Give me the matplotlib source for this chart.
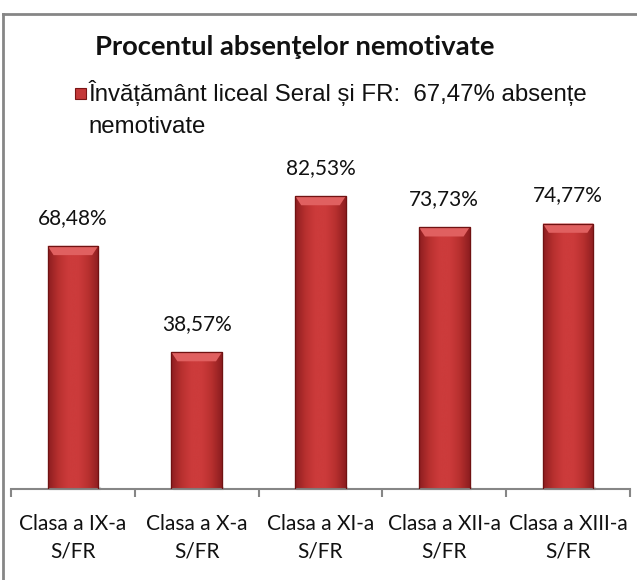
import numpy as np
import matplotlib
matplotlib.use("Agg")
import matplotlib.pyplot as plt
from matplotlib.patches import Rectangle
from matplotlib.colors import LinearSegmentedColormap

categories = ["Clasa a IX-a\nS/FR", "Clasa a X-a\nS/FR", "Clasa a XI-a\nS/FR",
              "Clasa a XII-a\nS/FR", "Clasa a XIII-a\nS/FR"]
values = [68.48, 38.57, 82.53, 73.73, 74.77]
labels = ["68,48%", "38,57%", "82,53%", "73,73%", "74,77%"]
title = "Procentul absenţelor nemotivate"
series_name = "Învățământ liceal Seral și FR:  67,47% absențe\nnemotivate"

W, H = 637, 580
fig = plt.figure(figsize=(W / 100, H / 100), dpi=100)
fig.patch.set_facecolor("white")

# outer border (top and left visible)
fig.add_artist(plt.Line2D([3 / W, 1.0], [1 - 14 / H, 1 - 14 / H], color="#868686", lw=2))
fig.add_artist(plt.Line2D([3 / W, 3 / W], [0, 1 - 14 / H], color="#868686", lw=2))

ax = fig.add_axes([11 / W, 91 / H, 619 / W, 355 / H])
ax.set_xlim(-0.5, len(values) - 0.5)
ax.set_ylim(0, 100)
for s in ["top", "right", "left"]:
    ax.spines[s].set_visible(False)
ax.spines["bottom"].set_color("#868686")
ax.spines["bottom"].set_linewidth(1.5)
ax.set_yticks([])

x = np.arange(len(values))
ax.set_xticks(x)
ax.set_xticklabels(categories, fontsize=15, family="Lato", color="#111111", linespacing=1.45)
ax.tick_params(axis="x", which="major", length=0, pad=18)
ax.set_xticks(np.arange(-0.5, len(values)), minor=True)
ax.tick_params(axis="x", which="minor", length=6, width=1.5, color="#868686")

cmap = LinearSegmentedColormap.from_list(
    "bar", ["#8E1E20", "#B8302F", "#CC3B3B", "#CC3B3B", "#B8302F", "#8E1E20"])
grad = np.linspace(0, 1, 64)[None, :]
bw = 0.41
bars = ax.bar(x, values, width=bw, color="#C43838", edgecolor="#7A1515", linewidth=0.8, zorder=2)
for b, v in zip(bars, values):
    x0 = b.get_x()
    im = ax.imshow(grad, cmap=cmap, extent=[x0, x0 + bw, 0, v], aspect="auto", zorder=2.5,
                   interpolation="bicubic")
    im.set_clip_path(b)
    # top bevel
    bev = 2.6
    dx = bw * 0.12
    ax.fill([x0, x0 + bw, x0 + bw - dx, x0 + dx], [v, v, v - bev, v - bev],
            color="#E06060", zorder=3, lw=0)
    ax.add_patch(Rectangle((x0, 0), bw, v, fill=False, edgecolor="#701212", lw=0.9, zorder=3.5))
    # subtle shadow
    ax.add_patch(Rectangle((x0 + 0.01, -0.0), bw, 0.6, color="#bbbbbb", alpha=0.5, zorder=1,
                           clip_on=False))

for xi, v, lab in zip(x, values, labels):
    ax.text(xi, v + 7.9, lab, ha="center", va="center", fontsize=15, family="Lato",
            color="#111111")

ax.set_facecolor("none")

fig.text(295 / W, 1 - 47 / H, title, ha="center", va="center", fontsize=19.7,
         family="Lato", fontweight="bold", color="#111111")

# legend marker + text
fig.add_artist(Rectangle((75 / W, 1 - 99 / H), 11 / W, 11 / H, transform=fig.transFigure,
                         facecolor="#C43838", edgecolor="#7A1515", lw=0.8))
fig.text(88 / W, 1 - 93 / H, series_name.split("\n")[0], ha="left", va="center", fontsize=17.3,
         family="Liberation Sans", color="#111111")
fig.text(88 / W, 1 - 127 / H, series_name.split("\n")[1], ha="left", va="center", fontsize=17.3,
         family="Liberation Sans", color="#111111")

fig.savefig("out.png", dpi=100)
